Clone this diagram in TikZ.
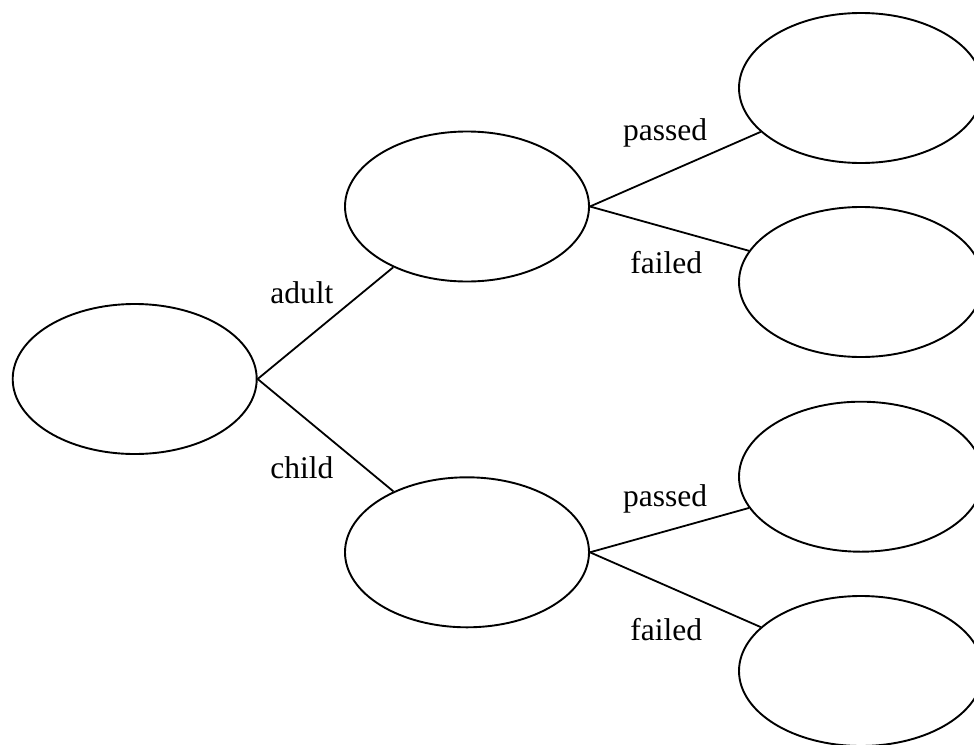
\documentclass[tikz,border=0pt]{standalone}
\usepackage{fontspec}
\setmainfont{Liberation Serif}
\usetikzlibrary{shapes.geometric}
\begin{document}
\begin{tikzpicture}[x=0.5pt,y=-0.5pt,
  state/.style={draw, ellipse, minimum width=122pt, minimum height=75pt, inner sep=0pt, line width=0.95pt},
  conn/.style={line width=0.9pt},
  lbl/.style={anchor=base west, inner sep=0pt, font=\fontsize{15.75}{18}\selectfont}]
\useasboundingbox (0,0) rectangle (974,744);
\node[state] (root) at (134.7,379) {};
\node[state] (adult) at (467,206.5) {};
\node[state] (child) at (467,552.3) {};
\node[state] (ap) at (861,88) {};
\node[state] (af) at (861,282) {};
\node[state] (cp) at (861,476.7) {};
\node[state] (cf) at (861,671) {};
\draw[conn] (root.east) -- (adult);
\draw[conn] (root.east) -- (child);
\draw[conn] (adult.east) -- (ap);
\draw[conn] (adult.east) -- (af);
\draw[conn] (child.east) -- (cp);
\draw[conn] (child.east) -- (cf);
\node[lbl] (ladult) at (270,303.3) {adult};
\node[lbl] (lchild) at (270,478.3) {child};
\node[lbl] (lap) at (622.7,140) {passed};
\node[lbl] (laf) at (630,273.3) {failed};
\node[lbl] (lcp) at (622.7,506) {passed};
\node[lbl] (lcf) at (630,640) {failed};
\end{tikzpicture}
\end{document}
